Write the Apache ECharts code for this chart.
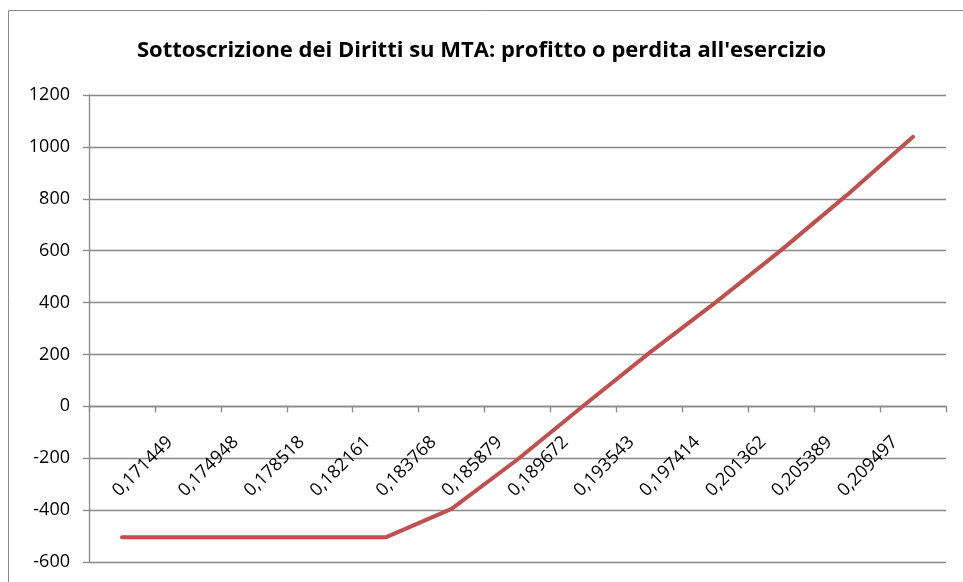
<!DOCTYPE html>
<html>
<head>
<meta charset="utf-8">
<script src="https://cdn.jsdelivr.net/npm/echarts@6/dist/echarts.min.js"></script>
<style>
  html, body { margin: 0; padding: 0; background: #fff; }
  #chart { width: 963px; height: 582px; }
</style>
</head>
<body>
<div id="chart"></div>
<script>
// strike prices on the x axis (last category has no label)
const categories = ['0,171449', '0,174948', '0,178518', '0,182161', '0,183768', '0,185879',
  '0,189672', '0,193543', '0,197414', '0,201362', '0,205389', '0,209497', ''];
// profit / loss at exercise
const profitLoss = [-505, -505, -505, -505, -505, -395, -205, 2, 206, 400, 602, 815, 1039];
const yTicks = { min: -600, max: 1200, step: 200 };

const chart = echarts.init(document.getElementById('chart'));
const gridColor = '#898989';
const font = '"Open Sans", "Noto Sans", sans-serif';

chart.setOption({
  animation: false,
  textStyle: { fontFamily: font },
  title: {
    text: "Sottoscrizione dei Diritti su MTA: profitto o perdita all'esercizio",
    left: 'center',
    top: 35,
    textStyle: { fontFamily: font, fontSize: 22, fontWeight: 'bold', color: '#000' }
  },
  graphic: [{
    type: 'rect',
    shape: { x: 8.5, y: 10.5, width: 1000, height: 1000 },
    style: { fill: 'none', stroke: gridColor, lineWidth: 1 },
    silent: true
  }],
  grid: { left: 89, right: 17, top: 95, bottom: 20, containLabel: false, outerBoundsMode: 'none' },
  xAxis: {
    type: 'category',
    data: categories,
    boundaryGap: true,
    axisLine: { onZero: true, lineStyle: { color: gridColor, width: 1.3 } },
    axisTick: { show: true, length: 6, lineStyle: { color: gridColor, width: 1.3 } },
    axisLabel: {
      interval: 0,
      rotate: 45,
      align: 'left',
      verticalAlign: 'bottom',
      margin: -62,
      color: '#000',
      fontSize: 18,
      fontFamily: font
    },
    splitLine: { show: false }
  },
  yAxis: {
    type: 'value',
    min: yTicks.min,
    max: yTicks.max,
    interval: yTicks.step,
    axisLine: { show: true, lineStyle: { color: gridColor, width: 1.3 } },
    axisTick: { show: true, length: 6, lineStyle: { color: gridColor, width: 1.3 } },
    axisLabel: { margin: 19, color: '#000', fontSize: 18, fontFamily: font, formatter: v => String(v) },
    splitLine: { show: true, lineStyle: { color: gridColor, width: 1.3 } }
  },
  series: [{
    type: 'line',
    data: profitLoss,
    symbol: 'none',
    lineStyle: { color: '#C0504D', width: 4, cap: 'round', join: 'round' }
  }]
});
</script>
</body>
</html>
